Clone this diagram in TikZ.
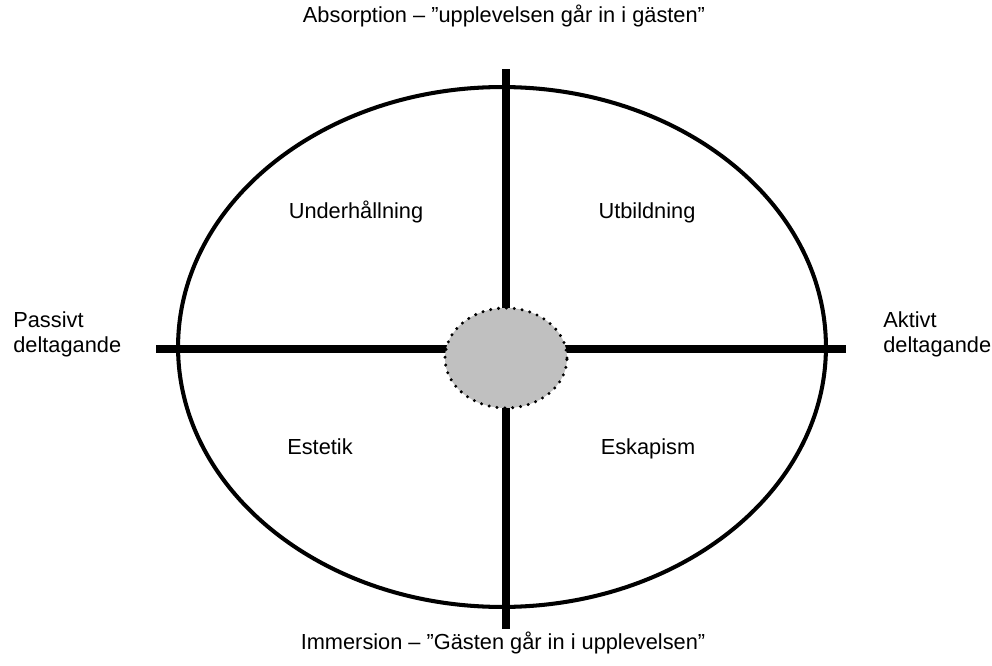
\documentclass[tikz,border=0pt]{standalone}
\usepackage{fontspec}
\setmainfont{Liberation Sans}
\usepackage{tikz}
\usetikzlibrary{shapes,positioning}
\definecolor{coregray}{RGB}{192,192,192}
\tikzstyle{axis} = [line width=4.8pt, color=black]
\tikzstyle{frame} = [ellipse, draw=black, line width=2.3pt, minimum width=12.96cm, minimum height=10.4cm, inner sep=0pt]
\tikzstyle{core} = [ellipse, draw=black, fill=coregray, line width=1.9pt, line cap=round, dash pattern=on 0pt off 4.5pt, minimum width=2.44cm, minimum height=2cm, inner sep=0pt]
\tikzstyle{label} = [font=\fontsize{12.4}{14.2}\selectfont, inner sep=0pt]

\begin{document}
\begin{tikzpicture}[x=0.02cm, y=-0.02cm]
\useasboundingbox (0,0) rectangle (992,666);

% Outer ellipse
\node (frame) [frame] at (502,347) {};

% Axes
\coordinate (passiv) at (156,349);
\coordinate (aktiv) at (846,349);
\coordinate (absorb) at (506,69);
\coordinate (immers) at (506,629);
\draw[axis] (passiv) -- (aktiv);
\draw[axis] (absorb) -- (immers);

% Centre
\node (core) [core] at (506,358) {};

% Axis labels
\node (abs) [label, anchor=base] at (504,23) {Absorption – ”upplevelsen går in i gästen”};
\node (imm) [label, anchor=base] at (503,649) {Immersion – ”Gästen går in i upplevelsen”};
\node (pas) [label, anchor=north west, align=left] at (13,311) {Passivt\\deltagande};
\node (akt) [label, anchor=north west, align=left] at (883,311) {Aktivt\\deltagande};

% Quadrants
\node (underh) [label, anchor=base] at (356,218) {Underhållning};
\node (utb) [label, anchor=base] at (647,218) {Utbildning};
\node (est) [label, anchor=base] at (320,454) {Estetik};
\node (esk) [label, anchor=base] at (648,454) {Eskapism};
\end{tikzpicture}
\end{document}
